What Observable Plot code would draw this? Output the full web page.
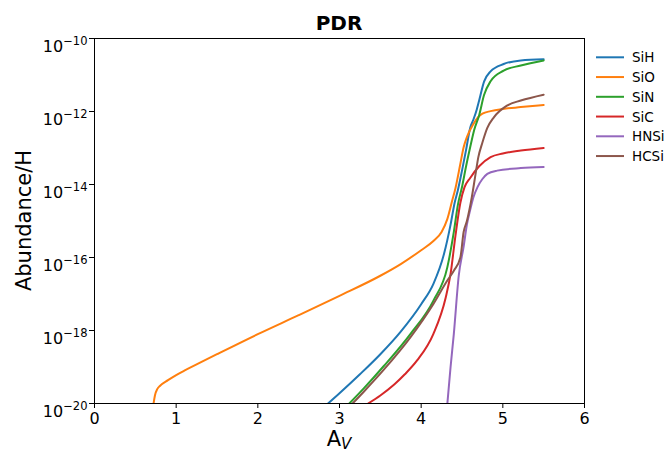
<!DOCTYPE html>
<html><head><meta charset="utf-8">
<script src="https://cdn.jsdelivr.net/npm/d3@7"></script>
<script src="https://cdn.jsdelivr.net/npm/@observablehq/plot@0.6"></script>
<style>
body{margin:0;background:#fff;}
svg{font-family:"DejaVu Sans",sans-serif;}
</style>
</head><body><div id="chart"></div>
<script>
// Series names and colours
const species = ["SiH", "SiO", "SiN", "SiC", "HNSi", "HCSi"];
const colors = ["#1f77b4", "#ff7f0e", "#2ca02c", "#d62728", "#9467bd", "#8c564b"];

// A_V values and log10(abundance/H)
const sihAv  = [2.86, 3.0, 3.25, 3.5, 3.75, 4.0, 4.15, 4.28, 4.36, 4.41, 4.45, 4.50, 4.55, 4.60, 4.64, 4.68, 4.71, 4.77, 4.85, 5.01, 5.22, 5.5];
const sihLog = [-20.0, -19.72, -19.2, -18.65, -18.03, -17.28, -16.72, -15.9, -15.1, -14.5, -14.15, -13.62, -13.05, -12.45, -12.22, -11.95, -11.70, -11.18, -10.9, -10.7, -10.6, -10.57];

const sioAv  = [0.72, 0.74, 0.77, 0.80, 0.9, 1.0, 1.1, 1.25, 1.5, 2.0, 2.5, 3.0, 3.5, 3.75, 4.0, 4.15, 4.25, 4.32, 4.38, 4.42, 4.48, 4.52, 4.56, 4.64, 4.70, 4.75, 4.85, 5.0, 5.22, 5.5];
const sioLog = [-20.05, -19.78, -19.6, -19.52, -19.36, -19.22, -19.1, -18.93, -18.65, -18.1, -17.58, -17.05, -16.5, -16.18, -15.8, -15.55, -15.3, -14.95, -14.44, -14.1, -13.43, -12.98, -12.7, -12.34, -12.15, -12.06, -11.99, -11.93, -11.88, -11.82];

const sinAv  = [3.12, 3.3, 3.54, 3.87, 4.15, 4.32, 4.40, 4.45, 4.50, 4.55, 4.60, 4.65, 4.71, 4.77, 4.85, 5.01, 5.22, 5.5];
const sinLog = [-20.0, -19.58, -18.98, -18.09, -17.18, -16.27, -15.3, -14.55, -14.07, -13.5, -12.98, -12.5, -12.1, -11.55, -11.17, -10.88, -10.74, -10.60];

const sicAv  = [3.35, 3.5, 3.67, 3.8, 3.95, 4.15, 4.30, 4.36, 4.42, 4.48, 4.53, 4.60, 4.71, 4.85, 5.0, 5.22, 5.5];
const sicLog = [-20.0, -19.78, -19.48, -19.2, -18.82, -18.09, -17.1, -16.45, -15.4, -14.5, -14.08, -13.82, -13.5, -13.25, -13.15, -13.07, -13.0];

const hnsiAv  = [4.32, 4.36, 4.40, 4.46, 4.52, 4.56, 4.60, 4.64, 4.69, 4.75, 4.81, 4.93, 5.22, 5.5];
const hnsiLog = [-20.02, -19.0, -18.09, -16.5, -15.7, -15.1, -14.7, -14.35, -14.07, -13.85, -13.71, -13.62, -13.55, -13.52];

const hcsiAv  = [3.16, 3.3, 3.54, 3.87, 4.15, 4.32, 4.40, 4.48, 4.52, 4.56, 4.62, 4.66, 4.70, 4.75, 4.81, 4.89, 5.05, 5.22, 5.5];
const hcsiLog = [-20.0, -19.67, -19.08, -18.18, -17.27, -16.63, -16.36, -16.0, -15.3, -15.0, -14.35, -13.8, -13.25, -12.85, -12.45, -12.16, -11.84, -11.70, -11.54];

// Tick values
const xTicks = [0, 1, 2, 3, 4, 5, 6];
const yTicks = [1e-20, 1e-18, 1e-16, 1e-14, 1e-12, 1e-10];

const seriesAv  = [sihAv, sioAv, sinAv, sicAv, hnsiAv, hcsiAv];
const seriesLog = [sihLog, sioLog, sinLog, sicLog, hnsiLog, hcsiLog];
const rows = [];
species.forEach((sp, i) => {
  seriesAv[i].forEach((av, j) => rows.push({sp, av, ab: Math.pow(10, seriesLog[i][j])}));
});

const W = 670, H = 455, mL = 94, mR = 86, mT = 38, mB = 52;
const chart = Plot.plot({
  width: W, height: H,
  marginLeft: mL, marginRight: mR, marginTop: mT, marginBottom: mB,
  style: {fontFamily: "DejaVu Sans", fontSize: "16px", color: "#000", background: "#fff", overflow: "visible"},
  x: {domain: [0, 6], label: null},
  y: {type: "log", domain: [1e-20, 1e-10], label: null},
  color: {domain: species, range: colors},
  marks: [
    Plot.line(rows, {x: "av", y: "ab", z: "sp", stroke: "sp", strokeWidth: 2, curve: "monotone-x", clip: true}),
    Plot.frame({stroke: "#000", strokeWidth: 1}),
    Plot.axisX({ticks: xTicks, tickFormat: d => String(d), tickSize: 5, tickPadding: 4, label: null, fontSize: 16}),
    Plot.axisY({ticks: yTicks, tickFormat: d => "10|" + Math.round(Math.log10(d)), tickSize: 5, tickPadding: 2, label: null, fontSize: 16})
  ]
});

const svg = d3.select(chart);
// superscript exponents on y tick labels
svg.selectAll('g[aria-label="y-axis tick label"] text').each(function() {
  const t = d3.select(this);
  const s = t.text();
  if (!s.includes("|")) return;
  const exp = s.split("|")[1].replace("-", "\u2212");
  t.text(null);
  t.attr("dy", "0.5em");
  t.append("tspan").text("10");
  t.append("tspan").attr("dy", "-0.55em").attr("font-size", "0.72em").text(exp);
});

const cx = mL + (W - mL - mR) / 2;
const cy = mT + (H - mT - mB) / 2;
// title
svg.append("text").attr("x", cx).attr("y", 30).attr("text-anchor", "middle")
  .attr("font-size", 20).attr("font-weight", "bold").attr("fill", "#000").text("PDR");
// x label A_V
const xl = svg.append("text").attr("x", cx).attr("y", 446).attr("text-anchor", "middle")
  .attr("font-size", 21).attr("fill", "#000");
xl.append("tspan").text("A");
xl.append("tspan").attr("font-size", "0.72em").attr("font-style", "italic").attr("dy", "0.22em").text("V");
// y label
svg.append("text").attr("transform", `translate(31,${cy}) rotate(-90)`).attr("text-anchor", "middle")
  .attr("font-size", 21).attr("fill", "#000").text("Abundance/H");

// legend
const lg = svg.append("g");
species.forEach((sp, i) => {
  const y = 57.3 + i * 19.75;
  lg.append("line").attr("x1", 596).attr("x2", 624).attr("y1", y).attr("y2", y)
    .attr("stroke", colors[i]).attr("stroke-width", 2);
  lg.append("text").attr("x", 632).attr("y", y + 5).attr("text-anchor", "start")
    .attr("font-size", 13.5).attr("fill", "#000").text(sp);
});

document.getElementById("chart").appendChild(chart);
</script>
</body></html>
